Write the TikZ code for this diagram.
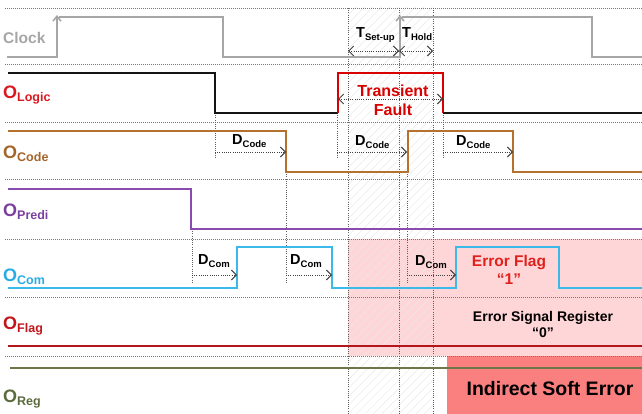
\documentclass[tikz,border=0pt]{standalone}
\usepackage{fontspec}
\setmainfont{Liberation Sans}
\usetikzlibrary{arrows.meta,patterns.meta}
\definecolor{clk}{RGB}{166,166,166}
\definecolor{lgc}{RGB}{20,20,20}
\definecolor{lgcl}{RGB}{217,24,31}
\definecolor{cod}{RGB}{181,114,47}
\definecolor{codl}{RGB}{165,100,42}
\definecolor{prd}{RGB}{138,75,175}
\definecolor{prdl}{RGB}{123,63,160}
\definecolor{com}{RGB}{59,185,233}
\definecolor{coml}{RGB}{42,172,226}
\definecolor{flg}{RGB}{180,22,28}
\definecolor{flgl}{RGB}{193,20,27}
\definecolor{reg}{RGB}{107,119,72}
\definecolor{regl}{RGB}{92,107,60}
\definecolor{errred}{RGB}{224,32,27}
\definecolor{pinkbg}{RGB}{255,214,216}
\definecolor{salmon}{RGB}{250,128,128}
\definecolor{sep}{RGB}{120,120,120}
\newcommand\osig[1]{{\fontsize{18}{18}\selectfont O}\raisebox{-3pt}{\fontsize{12.5}{13}\selectfont #1}}
\newcommand\dsub[2]{{\fontsize{14.5}{14}\selectfont #1}\raisebox{-3pt}{\fontsize{9.5}{10}\selectfont #2}}
\tikzset{
  sigline/.style={line width=2pt, line join=miter},
  sepline/.style={sep, line width=0.7pt, dash pattern=on 0.8pt off 1.2pt},
  vline/.style={sep!80!black, line width=0.7pt, dash pattern=on 1pt off 1.2pt},
  tipb/.tip={Straight Barb[length=5pt,width=10pt,line width=1pt]},
  darr/.style={black!75, line width=0.7pt, dash pattern=on 1pt off 1.2pt, -tipb},
  ddarr/.style={black!75, line width=0.7pt, dash pattern=on 1pt off 1.2pt, tipb-tipb},
  lab/.style={inner sep=0pt, anchor=base west, font=\bfseries},
  ctext/.style={inner sep=0pt, font=\bfseries, align=center},
}
\begin{document}
\begin{tikzpicture}[x=1pt,y=-1pt]
\useasboundingbox (0,0) rectangle (642,414);
% backgrounds
\fill[pinkbg] (348,239) rectangle (642,356);
\fill[salmon] (447,356) rectangle (642,414);
\fill[pattern={Lines[angle=45,distance=6pt,line width=0.5pt]}, pattern color=black!9] (348,8) rectangle (433,414);
% separators
\foreach \yy in {8,64,122,179,239,297,356}
  \draw[sepline] (5,\yy) -- (642,\yy);
% vertical guides
\foreach \xx in {348,399,433}
  \draw[vline] (\xx,8) -- (\xx,414);
\draw[vline] (215,113) -- (215,158);
\draw[vline] (337,113) -- (337,158);
\draw[vline] (443,113) -- (443,158);
\draw[vline] (286,172) -- (286,283);
\draw[vline] (192,229) -- (192,283);
\draw[vline] (407,172) -- (407,283);
% clock
\draw[clk, line width=1.8pt] (7,57) -- (57,57) -- (57,24);
\draw[clk, line width=1.8pt] (59,17) -- (223,17) -- (223,57) -- (400,57) -- (400,24);
\draw[clk, line width=1.8pt] (402,17) -- (592,17) -- (592,57) -- (642,57);
\draw[clk, line width=1.5pt, -{Straight Barb[length=5pt,width=8pt,line width=1.5pt]}] (57,40) -- (57,15);
\draw[clk, line width=1.5pt, -{Straight Barb[length=5pt,width=8pt,line width=1.5pt]}] (400,40) -- (400,15);
% logic
\draw[sigline, lgc] (8,73) -- (215,73) -- (215,113) -- (338,113);
\draw[sigline, red!85!black] (338,113) -- (338,73) -- (443,73) -- (443,113);
\draw[sigline, lgc] (443,113) -- (642,113);
% code
\draw[sigline, cod] (8,131) -- (286,131) -- (286,172) -- (408,172) -- (408,131) -- (513,131) -- (513,172) -- (642,172);
% predi
\draw[sigline, prd] (8,189) -- (191,189) -- (191,229) -- (642,229);
% com
\draw[sigline, com] (8,288) -- (237,288) -- (237,247) -- (332,247) -- (332,288) -- (456,288) -- (456,247) -- (559,247) -- (559,288) -- (642,288);
% flag, reg
\draw[sigline, flg] (8,346) -- (642,346);
\draw[sigline, reg] (10,368) -- (642,368);
% timing arrows
\draw[ddarr] (348,51) -- (399,51);
\draw[ddarr] (399,51) -- (433,51);
\draw[ddarr] (338,99) -- (443,99);
\draw[darr] (215,152) -- (286,152);
\draw[darr] (337,152) -- (407,152);
\draw[darr] (443,152) -- (513,152);
\draw[darr] (192,275) -- (237,275);
\draw[darr] (286,275) -- (332,275);
\draw[darr] (407,275) -- (456,275);
% labels
\node[lab, text=clk, font=\bfseries\fontsize{15.5}{16}\selectfont] (clock) at (3,44) {Clock};
\node[lab, text=lgcl] (ologic) at (3,99) {\osig{Logic}};
\node[lab, text=codl] (ocode) at (3,159) {\osig{Code}};
\node[lab, text=prdl] (opredi) at (3,216) {\osig{Predi}};
\node[lab, text=coml] (ocom) at (3,281) {\osig{Com}};
\node[lab, text=flgl] (oflag) at (3,329) {\osig{Flag}};
\node[lab, text=regl] (oreg) at (3,402) {\osig{Reg}};
\node[lab] (tsu) at (356,38) {\dsub{T}{Set-up}};
\node[lab] (thold) at (402,38) {\dsub{T}{Hold}};
\node[lab] (dc1) at (232,145) {\dsub{D}{Code}};
\node[lab] (dc2) at (355,146) {\dsub{D}{Code}};
\node[lab] (dc3) at (456,146) {\dsub{D}{Code}};
\node[lab] (dm1) at (198,264) {\dsub{D}{Com}};
\node[lab] (dm2) at (290,264) {\dsub{D}{Com}};
\node[lab] (dm3) at (415,265) {\dsub{D}{Com}};
\node[ctext, text=red!85!black, font=\bfseries\fontsize{16}{19}\selectfont] (tf) at (393,100) {Transient\\Fault};
\node[ctext, text=errred, font=\bfseries\fontsize{15.5}{18}\selectfont] (ef) at (509,270) {Error Flag\\“1”};
\node[ctext, font=\bfseries\fontsize{14}{16}\selectfont] (esr) at (543,324) {Error Signal Register\\“0”};
\node[ctext, font=\bfseries\fontsize{19.5}{20}\selectfont] (ise) at (550,389) {Indirect Soft Error};
\end{tikzpicture}
\end{document}
